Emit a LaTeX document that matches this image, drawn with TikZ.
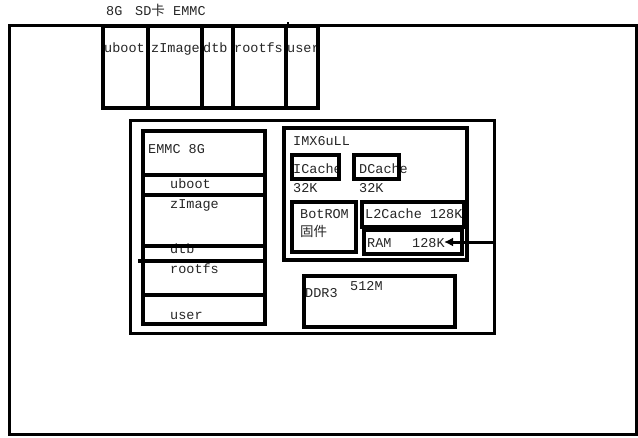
\documentclass[tikz,border=0pt]{standalone}
\usepackage{fontspec}
\setmainfont{Liberation Mono}
\newfontfamily\cjk{Noto Sans CJK SC}
\usetikzlibrary{arrows.meta}
\tikzset{
  box/.style={draw, line width=4pt, inner sep=0pt, anchor=north west},
  thinbox/.style={draw, line width=3.2pt, inner sep=0pt, anchor=north west},
  txt/.style={anchor=base west, inner sep=0pt, text=black!85, font=\fontsize{13.5}{15}\selectfont},
  divider/.style={line width=3.5pt},
  arrowline/.style={line width=3pt, -{Latex[length=9pt,width=9pt]}}
}
\begin{document}
\begin{tikzpicture}[x=1pt,y=-1pt]
\useasboundingbox[fill=white] (0,0) rectangle (638,437);
% texts first (boxes drawn over them)
\node[txt] (l8g) at (106,15) {8G};
\node[txt] (lsd) at (135,15) {SD{\cjk 卡}};
\node[txt] (lemmc) at (173,15) {EMMC};
\node[txt] (tuboot) at (104,52) {uboot};
\node[txt] (tzimage) at (151,52) {zImage};
\node[txt] (tdtb) at (203,52) {dtb};
\node[txt] (trootfs) at (234,52) {rootfs};
\node[txt] (tuser) at (287,52) {user};
\node[txt] (temmc) at (148,153) {EMMC 8G};
\node[txt] (euboot) at (170,188) {uboot};
\node[txt] (ezimage) at (170,208) {zImage};
\node[txt] (edtb) at (170,253) {dtb};
\node[txt] (erootfs) at (170,273) {rootfs};
\node[txt] (euser) at (170,319) {user};
\node[txt] (timx) at (293,145) {IMX6uLL};
\node[txt] (tic) at (293,173) {ICache};
\node[txt] (tdc) at (359,173) {DCache};
\node[txt] (tic32) at (293,192) {32K};
\node[txt] (tdc32) at (359,192) {32K};
\node[txt] (tbot) at (300,218) {BotROM};
\node[txt] (tgj) at (300,236) {\cjk 固件};
\node[txt] (tl2) at (365,218) {L2Cache 128K};
\node[txt] (tram) at (367,247) {RAM};
\node[txt] (tram128) at (412,247) {128K};
\node[txt] (tddr) at (305,297) {DDR3};
\node[txt] (tddr512) at (350,290) {512M};
% outer box
\node[thinbox, minimum width=627pt, minimum height=409pt] (outer) at (8,24) {};
% SD card strip
\node[box, minimum width=45pt, minimum height=82pt] (cuboot) at (101,24) {};
\node[box, minimum width=54pt, minimum height=82pt] (czimage) at (146,24) {};
\node[box, minimum width=31pt, minimum height=82pt] (cdtb) at (200,24) {};
\node[box, minimum width=53pt, minimum height=82pt] (crootfs) at (231,24) {};
\node[box, minimum width=32pt, minimum height=82pt] (cuser) at (284,24) {};
\draw[line width=2pt] (crootfs.north east) -- ++(0,-2);
% board
\node[thinbox, minimum width=364pt, minimum height=213pt] (board) at (129,119) {};
% EMMC
\node[box, minimum width=122pt, minimum height=193pt] (emmc) at (141,129) {};
\coordinate (d1) at (141,175);
\coordinate (d2) at (141,195);
\coordinate (d3) at (141,246);
\coordinate (d4) at (138,261);
\coordinate (d5) at (141,295);
\draw[divider] (d1) -- (d1 -| emmc.east);
\draw[divider] (d2) -- (d2 -| emmc.east);
\draw[divider] (d3) -- (d3 -| emmc.east);
\draw[divider] (d4) -- (d4 -| emmc.east);
\draw[divider] (d5) -- (d5 -| emmc.east);
% IMX6ULL
\node[box, minimum width=183pt, minimum height=132pt] (imx) at (282,126) {};
\node[box, minimum width=47pt, minimum height=24pt] (icache) at (290,153) {};
\node[box, minimum width=45pt, minimum height=24pt] (dcache) at (352,153) {};
\node[box, minimum width=64pt, minimum height=50pt] (botrom) at (290,200) {};
\node[box, minimum width=102pt, minimum height=25pt] (l2) at (360,200) {};
\node[box, minimum width=98pt, minimum height=24pt] (ram) at (362,228) {};
% DDR3
\node[box, minimum width=151pt, minimum height=51pt] (ddr) at (302,274) {};
% arrow
\coordinate (arrowend) at (444,242);
\draw[arrowline] (board.east |- arrowend) -- (arrowend);
\end{tikzpicture}
\end{document}
